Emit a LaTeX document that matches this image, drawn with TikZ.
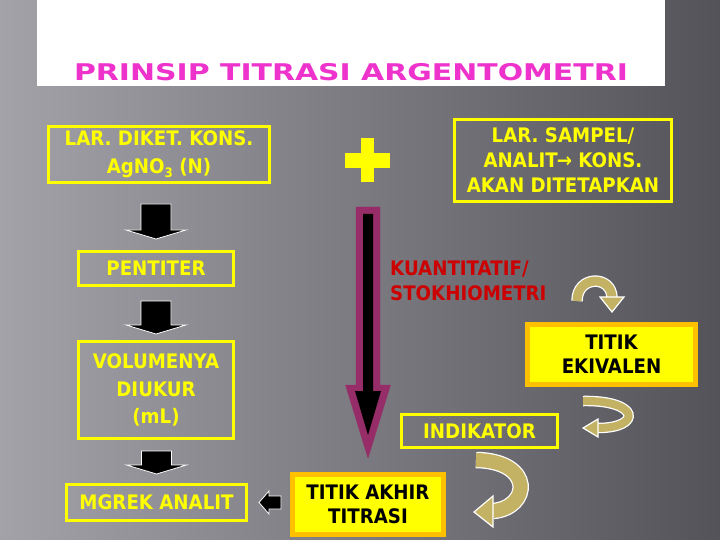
\documentclass[tikz,border=0pt]{standalone}
\usepackage{fontspec}
\usetikzlibrary{calc}

\newfontfamily\judulfont{DejaVu Sans}[FakeStretch=1.3]
\newfontfamily\isifont{DejaVu Sans}[FakeStretch=0.91]

\definecolor{kuning}{RGB}{255,255,0}
\definecolor{jingga}{RGB}{255,192,0}
\definecolor{ungu}{RGB}{150,45,105}
\definecolor{merah}{RGB}{204,0,0}
\definecolor{merahmuda}{RGB}{238,51,204}
\definecolor{emas}{RGB}{196,178,100}
\definecolor{abukiri}{RGB}{162,162,168}
\definecolor{abukanan}{RGB}{84,83,90}

\tikzset{
  kotak/.style={draw=kuning, line width=3pt, text=kuning, align=center, inner sep=0pt,
    font=\isifont\bfseries\fontsize{20}{28}\selectfont},
  kotakisi/.style={draw=jingga, fill=kuning, line width=5pt, text=black, align=center, inner sep=0pt,
    font=\isifont\bfseries\fontsize{20}{24}\selectfont},
  panahhitam/.style={fill=black, draw=white, line width=0.8pt},
}

% panah blok ke bawah: #1 pangkal, #2 ujung
\newcommand{\blokturun}[2]{%
  \filldraw[panahhitam] let \p1=(#1), \p2=(#2) in
    (\x2-15,\y1) -- (\x2+15,\y1) -- (\x2+15,\y2+9) -- (\x2+30,\y2+9)
    -- (\x2,\y2) -- (\x2-30,\y2+9) -- (\x2-15,\y2+9) -- cycle;}

% panah lengkung: #1 jalur, #2 tebal, #3 kepala
\newcommand{\lengkung}[3]{%
  \draw[white, line width=#2+2.5pt] #1;
  \draw[emas, line width=#2] #1;
  \filldraw[fill=emas, draw=white, line width=1.2pt] #3 -- cycle;}

\begin{document}
\begin{tikzpicture}[x=1pt, y=-1pt]
    % latar
    \useasboundingbox (0,0) rectangle (720,540);
    \shade[left color=abukiri, right color=abukanan] (0,0) rectangle (720,540);
    \fill[white] (37,0) rectangle (665,86);
    \node[text=merahmuda, font=\judulfont\bfseries\fontsize{23}{28}\selectfont] (judul) at (351,72.5) {PRINSIP TITRASI ARGENTOMETRI};

    % kolom kiri
    \node[kotak, minimum width=221pt, minimum height=56pt] (diket) at (159,154.5)
        {LAR. DIKET. KONS.\\AgNO\raisebox{-4pt}{\fontsize{13}{13}\selectfont 3} (N)};
    \node[kotak, minimum width=155pt, minimum height=34pt] (pentiter) at (156,268.5) {PENTITER};
    \node[kotak, minimum width=155pt, minimum height=97pt, font=\isifont\bfseries\fontsize{20}{27.5}\selectfont] (volume) at (156,390)
        {VOLUMENYA\\DIUKUR\\(mL)};
    \node[kotak, minimum width=180pt, minimum height=36pt] (mgrek) at (156.5,502.5) {MGREK ANALIT};

    \blokturun{$(diket.south)+(0,20)$}{$(pentiter.north)+(0,-11)$}
    \blokturun{$(pentiter.south)+(0,14)$}{$(volume.north)+(0,-6)$}
    \blokturun{$(volume.south)+(0,11)$}{$(mgrek.north)+(0,-9)$}

    % kolom kanan
    \coordinate (plus) at (367.5,160);
    \fill[kuning] (345,153) rectangle (390,168);
    \fill[kuning] (360.5,138) rectangle (373.5,182);
    \node[kotak, minimum width=217pt, minimum height=82pt, font=\isifont\bfseries\fontsize{20}{25}\selectfont] (sampel) at (563,160.5)
        {LAR. SAMPEL/\\ANALIT\kern-1pt→ KONS.\\AKAN DITETAPKAN};
    \node[anchor=west, align=left, inner sep=0pt, text=merah, font=\isifont\bfseries\fontsize{20}{25}\selectfont] (kuanti) at (390,281)
        {KUANTITATIF/\\STOKHIOMETRI};
    \node[kotakisi, minimum width=168pt, minimum height=60pt] (ekivalen) at (611.5,354.5) {TITIK\\EKIVALEN};
    \node[kotak, minimum width=156pt, minimum height=33pt] (indikator) at (479.5,431) {INDIKATOR};
    \node[kotakisi, minimum width=151pt, minimum height=60pt, font=\isifont\bfseries\fontsize{20}{23.5}\selectfont] (akhir) at (368,504.5)
        {TITIK AKHIR\\TITRASI};

    % panah besar
    \filldraw[fill=ungu, draw=ungu] let \p1=($(plus)+(0,47)$), \p2=($(akhir.north)+(0,-14)$) in
        (\x2-12,\y1) -- (\x2+12,\y1) -- (\x2+12,\y2+73) -- (\x2+22.5,\y2+73)
        -- (\x2,\y2) -- (\x2-22.5,\y2+73) -- (\x2-12,\y2+73) -- cycle;
    \fill[black] let \p1=($(plus)+(0,47)$), \p2=($(akhir.north)+(0,-14)$) in
        (\x2-5,\y1-7) -- (\x2+5,\y1-7) -- (\x2+5,\y2+67) -- (\x2+13,\y2+67)
        -- (\x2,\y2+23) -- (\x2-13,\y2+67) -- (\x2-5,\y2+67) -- cycle;

    % panah ke kiri
    \filldraw[panahhitam] let \p1=($(akhir.west)+(-9,0)$), \p2=($(mgrek.east)+(11,0)$) in
        (\x1,\y2-6.5) -- (\x1,\y2+6.5) -- (\x2+10,\y2+6.5) -- (\x2+10,\y2+11.5)
        -- (\x2,\y2) -- (\x2+10,\y2-11.5) -- (\x2+10,\y2-6.5) -- cycle;

    % panah lengkung
    \lengkung{(577,301) .. controls (577,275) and (612,275) .. (612,298)}{9pt}
        {(600,297) -- (624,297) -- (612,312)}
    \lengkung{(583,401) .. controls (640,400) and (642,428) .. (598,428)}{8pt}
        {(598,419) -- (598,437) -- (583,428)}
    \lengkung{(476,460) .. controls (535,461) and (530,508) .. (493,511)}{14pt}
        {(493,496) -- (493,527) -- (474,512)}
\end{tikzpicture}
\end{document}
